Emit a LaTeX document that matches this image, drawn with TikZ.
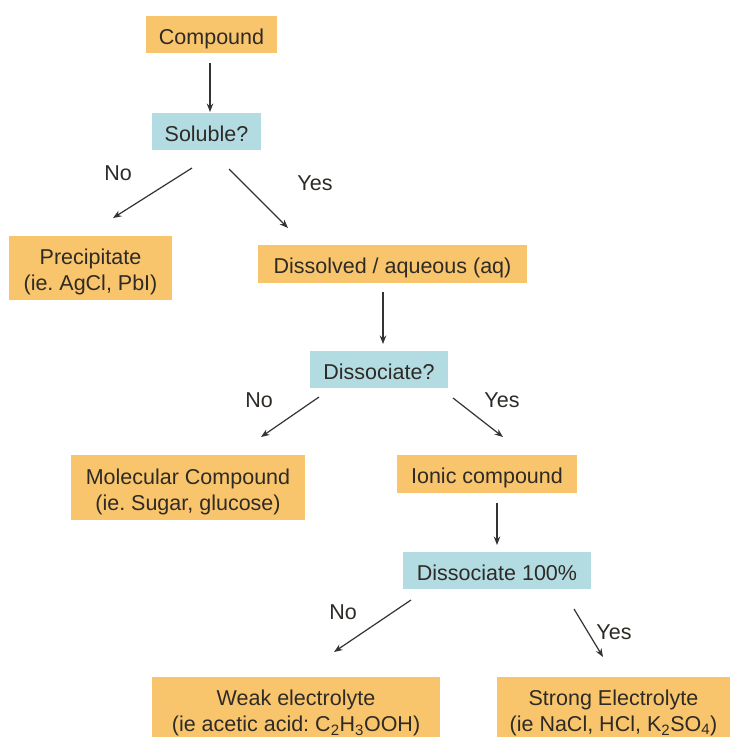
\documentclass[tikz,border=0pt]{standalone}
\usepackage{fontspec}
\setmainfont{Liberation Sans}
\usetikzlibrary{arrows.meta}
\definecolor{boxorange}{HTML}{F9C56C}
\definecolor{boxblue}{HTML}{B3DCE2}
\definecolor{txt}{HTML}{2E2A26}
\definecolor{arr}{HTML}{333333}
\frenchspacing
\begin{document}
\begin{tikzpicture}[x=1pt,y=-1pt,
  every node/.style={font=\fontsize{21.5}{26}\selectfont\frenchspacing, text=txt},
  obox/.style={fill=boxorange, inner sep=0pt, align=center},
  bbox/.style={fill=boxblue, inner sep=0pt, align=center},
  one/.style={text height=19.5pt, text depth=0pt},
  two/.style={text height=45.5pt, text depth=0pt},
  lbl/.style={inner sep=0pt},
  conn/.style={draw=arr, line width=1.2pt, -{Stealth[length=8.5pt,width=6.5pt]}}]
\useasboundingbox (0,0) rectangle (733,737);
\fill[white] (0,0) rectangle (733,737);
% boxes
\node[obox, one, minimum width=131pt, minimum height=37pt] (compound) at (211.5,34.5) {Compound};
\node[bbox, one, minimum width=109pt, minimum height=37pt] (soluble) at (206.5,131.5) {Soluble?};
\node[obox, two, minimum width=163pt, minimum height=64pt] (precip) at (90.5,268) {Precipitate\\(ie. AgCl, PbI)};
\node[obox, one, minimum width=269pt, minimum height=38pt] (dissolved) at (392.5,264) {Dissolved / aqueous (aq)};
\node[bbox, one, minimum width=138pt, minimum height=37pt] (dissq) at (379,369.5) {Dissociate?};
\node[obox, two, minimum width=234pt, minimum height=65pt] (molec) at (188,487.5) {Molecular Compound\\(ie. Sugar, glucose)};
\node[obox, one, minimum width=180pt, minimum height=38pt] (ionic) at (487,474) {Ionic compound};
\node[bbox, one, minimum width=188pt, minimum height=37pt] (diss100) at (497,570.5) {Dissociate 100\%};
\node[obox, two, minimum width=288pt, minimum height=64pt] (weak) at (296,709) {Weak electrolyte\\(ie acetic acid: C\textsubscript{2}H\textsubscript{3}OOH)};
\node[obox, two, minimum width=233pt, minimum height=64pt] (strong) at (613.5,709) {Strong Electrolyte\\(ie NaCl, HCl, K\textsubscript{2}SO\textsubscript{4})};
% connector end points
\coordinate (a1) at (210,63);   \coordinate (b1) at (210,112);
\coordinate (a2) at (192,168);  \coordinate (b2) at (113,218);
\coordinate (a3) at (229,169);  \coordinate (b3) at (288,228);
\coordinate (a4) at (383,292);  \coordinate (b4) at (383,344);
\coordinate (a5) at (319,397);  \coordinate (b5) at (261,437);
\coordinate (a6) at (453,398);  \coordinate (b6) at (503,437);
\coordinate (a7) at (497,503);  \coordinate (b7) at (497,545);
\coordinate (a8) at (411,600);  \coordinate (b8) at (334,652);
\coordinate (a9) at (574,609);  \coordinate (b9) at (603,657);
\draw[conn] (a1) -- (b1);
\draw[conn] (a2) -- (b2);
\draw[conn] (a3) -- (b3);
\draw[conn] (a4) -- (b4);
\draw[conn] (a5) -- (b5);
\draw[conn] (a6) -- (b6);
\draw[conn] (a7) -- (b7);
\draw[conn] (a8) -- (b8);
\draw[conn] (a9) -- (b9);
% labels
\node[lbl] (l1) at (118,173) {No};
\node[lbl] (l2) at (315,183) {Yes};
\node[lbl] (l3) at (259,400) {No};
\node[lbl] (l4) at (502,400) {Yes};
\node[lbl] (l5) at (343,612) {No};
\node[lbl] (l6) at (614,632) {Yes};
\end{tikzpicture}
\end{document}
